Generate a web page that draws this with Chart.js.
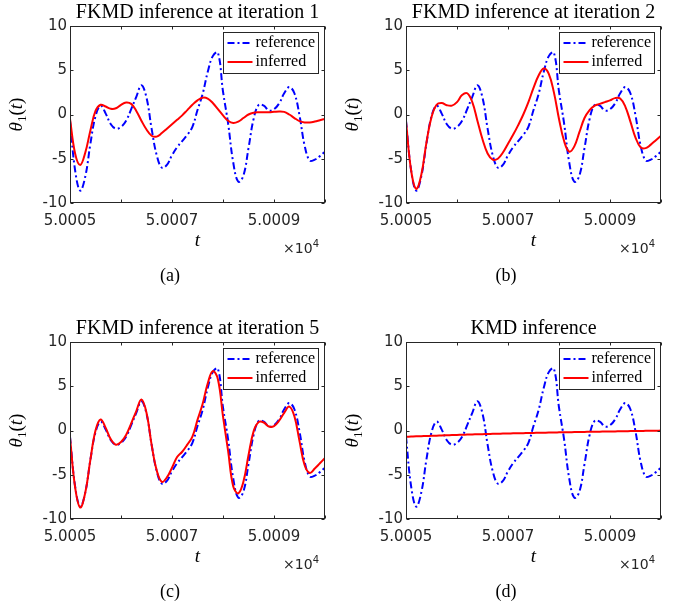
<!DOCTYPE html>
<html>
<head>
<meta charset="utf-8">
<script src="https://cdn.jsdelivr.net/npm/chart.js@4.4.0/dist/chart.umd.min.js"></script>
<style>
  html, body { margin: 0; padding: 0; background: #fff; overflow: hidden; }
  #wrap { position: relative; width: 688px; height: 606px; }
  canvas { position: absolute; }
</style>
</head>
<body>
<div id="wrap">
  <canvas id="pa" width="344" height="303" style="left:0;top:0"></canvas>
  <canvas id="pb" width="344" height="303" style="left:336px;top:0"></canvas>
  <canvas id="pc" width="344" height="303" style="left:0;top:316px"></canvas>
  <canvas id="pd" width="344" height="303" style="left:336px;top:316px"></canvas>
</div>
<script>
// sample times t
const tValues = [
  50005.0, 50005.1, 50005.2, 50005.3, 50005.4, 50005.5, 50005.6, 50005.7, 50005.8, 50005.9,
  50006.0, 50006.1, 50006.2, 50006.3, 50006.4, 50006.5, 50006.6, 50006.7, 50006.8, 50006.9,
  50007.0, 50007.1, 50007.2, 50007.3, 50007.4, 50007.5, 50007.6, 50007.7, 50007.8, 50007.9,
  50008.0, 50008.1, 50008.2, 50008.3, 50008.4, 50008.5, 50008.6, 50008.7, 50008.8, 50008.9,
  50009.0, 50009.1, 50009.2, 50009.3, 50009.4, 50009.5, 50009.6, 50009.7, 50009.8, 50009.9,
  50010.0
];

// reference theta_1(t), same in all panels
const referenceTheta = [
  -0.7, -6.3, -8.6, -7.0, -3.3, -0.2, 1.0, 0.1, -1.1, -1.6,
  -1.4, -0.7, 0.6, 2.0, 3.3, 1.9, -1.6, -4.6, -6.0, -5.7,
  -4.6, -3.7, -3.0, -2.3, -1.4, 0.5, 2.3, 4.8, 6.6, 7.0,
  2.6, -1.0, -5.4, -7.6, -6.9, -3.8, -0.5, 1.1, 1.0, 0.45,
  0.6, 1.25, 2.4, 3.1, 2.4, -0.1, -3.5, -5.2, -5.1, -4.7,
  -4.2
];

const inferredIter1 = [
  -0.5, -4.4, -5.7, -4.3, -1.8, 0.4, 1.1, 0.9, 0.65, 0.7,
  1.1, 1.35, 1.2, 0.4, -0.7, -1.7, -2.4, -2.5, -2.1, -1.6,
  -1.1, -0.6, -0.1, 0.5, 1.1, 1.6, 1.9, 1.8, 1.3, 0.6,
  -0.1, -0.7, -0.95, -0.8, -0.4, 0.0, 0.2, 0.25, 0.25, 0.25,
  0.3, 0.35, 0.3, 0.0, -0.4, -0.75, -0.9, -0.9, -0.8, -0.65,
  -0.5
];

const inferredIter2 = [
  -0.8, -6.3, -8.4, -6.8, -3.2, -0.3, 1.1, 1.3, 1.05, 1.0,
  1.4, 2.2, 2.4, 1.4, -0.7, -2.8, -4.4, -5.1, -5.0, -4.3,
  -3.3, -2.3, -1.2, 0.0, 1.4, 3.0, 4.4, 5.2, 4.6, 2.5,
  -0.5, -3.0, -4.2, -3.6, -2.0, -0.4, 0.5, 1.0, 1.2, 1.4,
  1.6, 1.85, 1.8, 0.9, -0.8, -2.6, -3.7, -3.8, -3.4, -2.9,
  -2.4
];

const inferredIter5 = [
  -0.8, -6.4, -8.7, -7.0, -3.3, 0.0, 1.25, 0.3, -1.0, -1.6,
  -1.3, -0.5, 0.8, 2.2, 3.5, 2.0, -1.6, -4.5, -5.8, -5.3,
  -4.2, -3.0, -2.4, -1.6, -0.7, 1.2, 3.0, 5.3, 6.7, 5.8,
  1.6, -2.3, -6.3, -7.1, -5.8, -2.8, -0.1, 0.95, 0.9, 0.45,
  0.5, 1.1, 2.0, 2.7, 1.6, -1.2, -3.9, -4.8, -4.3, -3.7,
  -3.1
];

const inferredKMD = [
  -0.72, -0.69, -0.66, -0.64, -0.62, -0.60, -0.58, -0.56, -0.54, -0.52,
  -0.50, -0.48, -0.46, -0.44, -0.43, -0.41, -0.40, -0.38, -0.37, -0.35,
  -0.34, -0.32, -0.31, -0.30, -0.28, -0.27, -0.26, -0.25, -0.24, -0.22,
  -0.21, -0.20, -0.19, -0.18, -0.17, -0.16, -0.15, -0.14, -0.13, -0.12,
  -0.11, -0.10, -0.09, -0.08, -0.07, -0.06, -0.05, -0.04, -0.03, -0.02,
  -0.01
];

const xTickValues = [50005, 50006, 50007, 50008, 50009, 50010];
const xTickLabels = ['5.0005', '', '5.0007', '', '5.0009', ''];
const yTickValues = [-10, -5, 0, 5, 10];
const yTickLabels = ['-10', '-5', '0', '5', '10'];

const panelIds = ['pa', 'pb', 'pc', 'pd'];
const panelTitles = [
  'FKMD inference at iteration 1',
  'FKMD inference at iteration 2',
  'FKMD inference at iteration 5',
  'KMD inference'
];
const panelCaptions = ['(a)', '(b)', '(c)', '(d)'];
const panelInferred = [inferredIter1, inferredIter2, inferredIter5, inferredKMD];
const legendLabels = ['reference', 'inferred'];

const AXIS_COLOR = '#262626';
const SERIF = '"Liberation Serif", "Times New Roman", serif';
const SANS = '"DejaVu Sans", sans-serif';

// box, inward ticks, legend and the text bits matlab puts around the axes
const matlabAxes = {
  id: 'matlabAxes',
  afterDraw(chart, args, opts) {
    const { ctx, chartArea: ca, scales: { x, y } } = chart;
    const L = Math.round(ca.left) + 0.5, R = Math.round(ca.right) - 0.5;
    const T = Math.round(ca.top) + 0.5, B = Math.round(ca.bottom) - 0.5;
    ctx.save();
    ctx.strokeStyle = AXIS_COLOR;
    ctx.lineWidth = 1;
    ctx.setLineDash([]);
    ctx.strokeRect(L, T, R - L, B - T);

    ctx.beginPath();
    x.ticks.forEach(tk => {
      const px = Math.round(x.getPixelForValue(tk.value)) + 0.5;
      ctx.moveTo(px, B); ctx.lineTo(px, B - 3);
      ctx.moveTo(px, T); ctx.lineTo(px, T + 3);
    });
    y.ticks.forEach(tk => {
      const py = Math.round(y.getPixelForValue(tk.value)) + 0.5;
      ctx.moveTo(L, py); ctx.lineTo(L + 3, py);
      ctx.moveTo(R, py); ctx.lineTo(R - 3, py);
    });
    ctx.stroke();

    // legend
    ctx.font = '16px ' + SERIF;
    const items = chart.data.datasets;
    const textW = Math.max(...items.map(d => ctx.measureText(d.label).width));
    const boxW = Math.round(32 + textW + 4), boxH = 41;
    const bx = Math.round(ca.right - 7 - boxW) + 0.5, by = Math.round(ca.top + 6) + 0.5;
    ctx.fillStyle = '#fff';
    ctx.fillRect(bx, by, boxW, boxH);
    ctx.strokeStyle = AXIS_COLOR;
    ctx.strokeRect(bx, by, boxW, boxH);
    items.forEach((d, i) => {
      const ly = by + 10.5 + i * 19;
      ctx.beginPath();
      ctx.strokeStyle = d.borderColor;
      ctx.lineWidth = d.borderWidth;
      ctx.setLineDash(d.borderDash || []);
      ctx.moveTo(bx + 4, ly);
      ctx.lineTo(bx + 29, ly);
      ctx.stroke();
      ctx.fillStyle = '#000';
      ctx.textBaseline = 'middle';
      ctx.textAlign = 'left';
      ctx.fillText(d.label, bx + 32, ly);
    });
    ctx.setLineDash([]);

    // x label
    const cx = (ca.left + ca.right) / 2;
    ctx.fillStyle = '#000';
    ctx.textBaseline = 'alphabetic';
    ctx.textAlign = 'center';
    ctx.font = 'italic 19px ' + SERIF;
    ctx.fillText('t', cx, 246);

    // x10^4 exponent
    ctx.fillStyle = AXIS_COLOR;
    ctx.textAlign = 'right';
    ctx.font = '10px ' + SANS;
    const expX = ca.right - 6;
    ctx.fillText('4', expX, 247);
    const w4 = ctx.measureText('4').width;
    ctx.font = '14px ' + SANS;
    ctx.fillText('\u00d710', expX - w4, 253);

    // y label theta_1(t), rotated
    const parts = [
      { s: '\u03b8', f: 'italic 19px ' + SERIF, dy: 0 },
      { s: '1', f: '13px ' + SERIF, dy: 4 },
      { s: '(', f: '19px ' + SERIF, dy: 0 },
      { s: 't', f: 'italic 19px ' + SERIF, dy: 0 },
      { s: ')', f: '19px ' + SERIF, dy: 0 }
    ];
    let total = 0;
    parts.forEach(p => { ctx.font = p.f; p.w = ctx.measureText(p.s).width; total += p.w; });
    ctx.save();
    ctx.translate(17, (ca.top + ca.bottom) / 2);
    ctx.rotate(-Math.PI / 2);
    ctx.fillStyle = '#000';
    ctx.textAlign = 'left';
    let u = -total / 2;
    parts.forEach(p => { ctx.font = p.f; ctx.fillText(p.s, u, 5 + p.dy); u += p.w; });
    ctx.restore();

    // panel caption
    ctx.fillStyle = '#000';
    ctx.textAlign = 'center';
    ctx.font = '18px ' + SERIF;
    ctx.fillText(opts.caption, 170, 281);
    ctx.restore();
  }
};

panelIds.forEach((id, i) => {
  new Chart(document.getElementById(id), {
    type: 'line',
    data: {
      labels: tValues,
      datasets: [
        {
          label: legendLabels[0],
          data: tValues.map((t, k) => ({ x: t, y: referenceTheta[k] })),
          borderColor: '#0000ff',
          borderWidth: 2,
          borderDash: [7, 3, 2, 3],
          pointRadius: 0,
          tension: 0.4,
          order: 2
        },
        {
          label: legendLabels[1],
          data: tValues.map((t, k) => ({ x: t, y: panelInferred[i][k] })),
          borderColor: '#ff0000',
          borderWidth: 2,
          pointRadius: 0,
          tension: 0.4,
          order: 1
        }
      ]
    },
    options: {
      responsive: false,
      animation: false,
      devicePixelRatio: 1,
      layout: { padding: { left: 0, right: 19, top: 0, bottom: 48 } },
      plugins: {
        legend: { display: false },
        tooltip: { enabled: false },
        title: {
          display: true,
          text: panelTitles[i],
          fullSize: false,
          color: '#000',
          font: { family: SERIF, size: 20, weight: 'normal', lineHeight: 1.2 },
          padding: { top: 1, bottom: 1 }
        },
        matlabAxes: { caption: panelCaptions[i] }
      },
      scales: {
        x: {
          type: 'linear',
          min: 50005,
          max: 50010,
          grid: { display: false, drawTicks: false, tickLength: 0 },
          border: { display: false },
          afterBuildTicks: s => { s.ticks = xTickValues.map(v => ({ value: v })); },
          afterFit: s => { s.height = 52; },
          ticks: {
            autoSkip: false,
            maxRotation: 0,
            padding: 9,
            color: AXIS_COLOR,
            font: { family: SANS, size: 15 },
            callback: (v, idx) => xTickLabels[idx]
          }
        },
        y: {
          min: -10,
          max: 10,
          grid: { display: false, drawTicks: false, tickLength: 0 },
          border: { display: false },
          afterBuildTicks: s => { s.ticks = yTickValues.map(v => ({ value: v })); },
          afterFit: s => { s.width = 70; },
          ticks: {
            padding: 3,
            color: AXIS_COLOR,
            font: { family: SANS, size: 15 },
            callback: (v, idx) => yTickLabels[idx]
          }
        }
      }
    },
    plugins: [matlabAxes]
  });
});
</script>
</body>
</html>
